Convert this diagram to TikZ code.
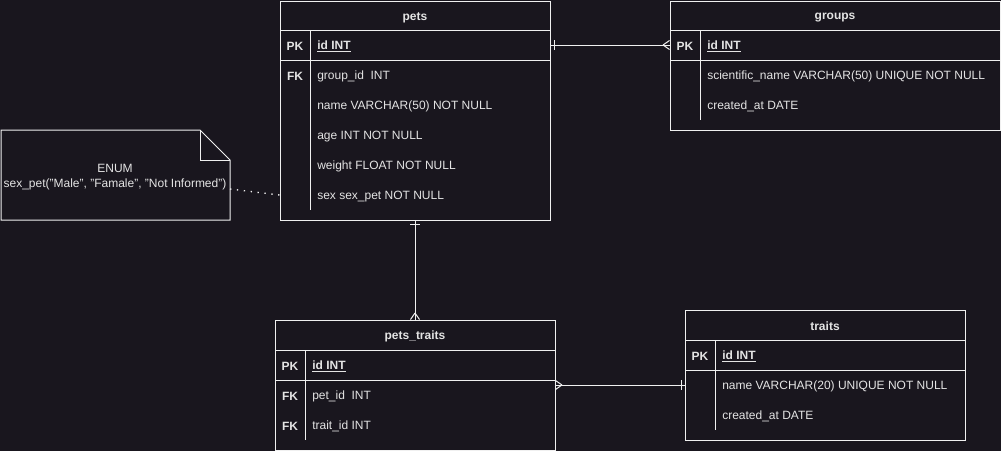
\documentclass[tikz,border=0pt]{standalone}
\usepackage{fontspec}
\setmainfont{Liberation Sans}
\usetikzlibrary{fit}
\definecolor{bgc}{HTML}{19161E}
\definecolor{linec}{HTML}{F0F0F0}
\definecolor{txtc}{HTML}{E4E4E4}
\begin{document}
\begin{tikzpicture}[x=0.75pt,y=-0.75pt,
  ln/.style={draw=linec, line width=0.75pt},
  tbl/.style={ln, inner sep=0pt, fit={#1}},
  txt/.style={text=txtc, font=\fontsize{9pt}{11pt}\selectfont, inner sep=0pt, anchor=west, yshift=-1.1pt},
  ttl/.style={text=txtc, font=\fontsize{9pt}{11pt}\selectfont\bfseries, inner sep=0pt, yshift=-1.1pt},
  key/.style={text=txtc, font=\fontsize{9pt}{11pt}\selectfont\bfseries, inner sep=0pt, yshift=-1.1pt},
  dotline/.style={draw=linec, line width=1pt, dash pattern=on 1pt off 4.2pt}
]
\fill[bgc] (0,0) rectangle (1001,451);
\useasboundingbox (0,0) rectangle (1001,451);

% ---------- pets ----------
\node[tbl={(280,1)(550,220)}] (pets) {};
\draw[ln] (280,30) -- (550,30);
\draw[ln] (280,60) -- (550,60);
\draw[ln] (310,30) -- (310,210);
\node[ttl] (petsT) at (415,16) {pets};
\node[key] (petsPKk) at (295,45) {PK};
\node[txt] (petsPK) at (317,45) {\bfseries\underline{id INT}};
\node[key] (petsFKk) at (295,75) {FK};
\node[txt] (petsR1) at (317,75) {group\_id\ \ INT};
\node[txt] (petsR2) at (317,105) {name VARCHAR(50) NOT NULL};
\node[txt] (petsR3) at (317,135) {age INT NOT NULL};
\node[txt] (petsR4) at (317,165) {weight FLOAT NOT NULL};
\node[txt] (petsR5) at (317,195) {sex sex\_pet NOT NULL};

% ---------- groups ----------
\node[tbl={(670,1)(1000,130)}] (groups) {};
\draw[ln] (670,30) -- (1000,30);
\draw[ln] (670,60) -- (1000,60);
\draw[ln] (700,30) -- (700,120);
\node[ttl] (groupsT) at (835,16) {groups};
\node[key] (groupsPKk) at (685,45) {PK};
\node[txt] (groupsPK) at (707,45) {\bfseries\underline{id INT}};
\node[txt] (groupsR1) at (707,75) {scientific\_name VARCHAR(50) UNIQUE NOT NULL};
\node[txt] (groupsR2) at (707,105) {created\_at DATE};

% ---------- pets_traits ----------
\node[tbl={(275,320)(555,450)}] (pt) {};
\draw[ln] (275,350) -- (555,350);
\draw[ln] (275,380) -- (555,380);
\draw[ln] (305,350) -- (305,440);
\node[ttl] (ptT) at (415,335) {pets\_traits};
\node[key] (ptPKk) at (290,365) {PK};
\node[txt] (ptPK) at (312,365) {\bfseries\underline{id INT}};
\node[key] (ptFK1) at (290,395) {FK};
\node[txt] (ptR1) at (312,395) {pet\_id\ \ INT};
\node[key] (ptFK2) at (290,425) {FK};
\node[txt] (ptR2) at (312,425) {trait\_id INT};

% ---------- traits ----------
\node[tbl={(685,310)(965,440)}] (traits) {};
\draw[ln] (685,340) -- (965,340);
\draw[ln] (685,370) -- (965,370);
\draw[ln] (715,340) -- (715,430);
\node[ttl] (traitsT) at (825,325) {traits};
\node[key] (traitsPKk) at (700,355) {PK};
\node[txt] (traitsPK) at (722,355) {\bfseries\underline{id INT}};
\node[txt] (traitsR1) at (722,385) {name VARCHAR(20) UNIQUE NOT NULL};
\node[txt] (traitsR2) at (722,415) {created\_at DATE};

% ---------- note ----------
\draw[ln] (1,130) -- (200,130) -- (230,160) -- (230,220) -- (1,220) -- cycle;
\draw[ln] (200,130) -- (200,160) -- (230,160);
\coordinate (noteE) at (230,189);
\node[text=txtc, font=\fontsize{9pt}{11pt}\selectfont, align=center, inner sep=0pt, yshift=-1.1pt] (enum) at (115,175.5) {ENUM\\sex\_pet("Male", "Famale", "Not Informed")};
\draw[dotline] (noteE) -- (pets.west |- 0,195);

% ---------- connectors ----------
% pets -> groups
\draw[ln] (pets.east |- 0,45) -- (groups.west |- 0,45);
\draw[ln] (554,40) -- (554,50);
\draw[ln] (663,45) -- (groups.west |- 0,40.5);
\draw[ln] (663,45) -- (groups.west |- 0,49.5);

% pets -> pets_traits
\draw[ln] (pets.south) -- (pt.north);
\draw[ln] (410,224) -- (420,224);
\draw[ln] (415,313) -- (pt.north -| 410.5,0);
\draw[ln] (415,313) -- (pt.north -| 419.5,0);

% pets_traits -> traits
\draw[ln] (pt.east |- 0,385) -- (traits.west |- 0,385);
\draw[ln] (562,385) -- (pt.east |- 0,380.5);
\draw[ln] (562,385) -- (pt.east |- 0,389.5);
\draw[ln] (681,380) -- (681,390);
\end{tikzpicture}
\end{document}
